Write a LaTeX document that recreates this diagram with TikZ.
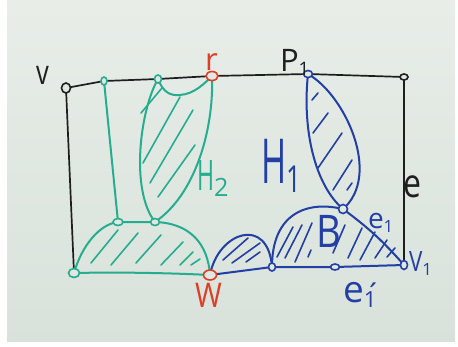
\documentclass[tikz,border=0pt]{standalone}
\usepackage{fontspec}
\setmainfont{Open Sans}
\usetikzlibrary{shapes.geometric}
\definecolor{boardtop}{RGB}{232,237,232}
\definecolor{boardbot}{RGB}{216,226,219}
\definecolor{board}{RGB}{225,232,226}
\definecolor{gcol}{RGB}{38,172,142}
\definecolor{bcol}{RGB}{35,62,165}
\definecolor{rcol}{RGB}{222,62,38}
\definecolor{kcol}{RGB}{30,30,30}
\newcommand{\lowsub}[1]{\raisebox{-0.3ex}{\scalebox{0.6}{#1}}}
\tikzset{
  vtx/.style={ellipse, draw=#1, line width=1.6pt, fill=board, minimum width=8pt, minimum height=7pt, inner sep=0pt},
  kline/.style={kcol, line width=1.7pt, line cap=round, line join=round},
  gline/.style={gcol, line width=2pt, line cap=round, line join=round},
  bline/.style={bcol, line width=2pt, line cap=round, line join=round},
  ghatch/.style={gcol, line width=1.6pt, line cap=round},
  bhatch/.style={bcol, line width=1.6pt, line cap=round},
  lab/.style={inner sep=0pt, outer sep=0pt, anchor=base west},
}
\begin{document}
\begin{tikzpicture}[x=1pt,y=-1pt]
\useasboundingbox (0,0) rectangle (458,346);
\fill[white] (0,0) rectangle (458,346);
\shade[top color=boardtop, bottom color=boardbot] (7,0) rectangle (455,341);

% named points
\coordinate (v) at (66,88);
\coordinate (g1) at (104,81);
\coordinate (g2) at (158,79);
\coordinate (r) at (212,76);
\coordinate (p1) at (308,74);
\coordinate (tr) at (404,77);
\coordinate (gk) at (180,95);
\coordinate (gm1) at (118,222);
\coordinate (gm2) at (155,222);
\coordinate (gbl) at (74,273);
\coordinate (w) at (210,275);
\coordinate (b1) at (272,267);
\coordinate (b2) at (335,267);
\coordinate (v1) at (404,265);
\coordinate (j) at (343,209);

% black frame
\draw[kline] (v) -- (g1) -- (g2) -- (r) -- (p1) -- (tr);
\draw[kline] (tr) -- (v1);
\draw[kline] (v) -- (gbl);

% green part
\draw[gline] (g1) -- (gm1);
\draw[gline] (g2) .. controls (163,92) and (170,96) .. (gk) .. controls (194,94) and (204,84) .. (r);
\draw[gline] (g2) .. controls (140,110) and (130,190) .. (gm2);
\draw[gline] (r) .. controls (214,130) and (195,195) .. (gm2);
\draw[gline] (gbl) .. controls (82,245) and (100,224) .. (gm1) -- (gm2) .. controls (190,223) and (208,244) .. (w);
\draw[gline] (gbl) .. controls (120,272) and (170,273) .. (w);

\draw[ghatch] (162,88) -- (141,113);
\draw[ghatch] (180,97) -- (143,163);
\draw[ghatch] (193,110) -- (150,183);
\draw[ghatch] (195,145) -- (158,197);
\draw[ghatch] (91,263) -- (118,230);
\draw[ghatch] (111,265) -- (138,233);
\draw[ghatch] (136,263) -- (161,235);
\draw[ghatch] (161,265) -- (183,242);
\draw[ghatch] (180,265) -- (193,252);
\draw[ghatch] (191,265) -- (200,259);

% blue part
\draw[bline] (w) -- (b1) -- (b2) -- (v1);
\draw[bline] (w) .. controls (218,232) and (268,215) .. (b1);
\draw[bline] (b1) .. controls (272,215) and (305,200) .. (j);
\draw[bline] (j) to[bend left=6] (v1);
\draw[bline] (p1) .. controls (302,130) and (315,185) .. (j);
\draw[bline] (p1) .. controls (345,95) and (382,175) .. (j);

\draw[bhatch] (223,260) -- (248,238);
\draw[bhatch] (232,263) -- (260,243);
\draw[bhatch] (246,262) -- (260,252);
\draw[bhatch] (277,257) -- (293,227);
\draw[bhatch] (285,258) -- (302,225);
\draw[bhatch] (295,262) -- (312,223);
\draw[bhatch] (308,257) -- (311,250);
\draw[bhatch] (333,253) -- (345,225);
\draw[bhatch] (348,258) -- (362,228);
\draw[bhatch] (360,260) -- (375,232);
\draw[bhatch] (375,258) -- (387,240);
\draw[bhatch] (387,257) -- (395,248);
\draw[bhatch] (312,100) -- (318,93);
\draw[bhatch] (313,133) -- (328,113);
\draw[bhatch] (318,168) -- (342,133);
\draw[bhatch] (333,190) -- (352,160);
\draw[bhatch] (347,190) -- (352,183);

% vertices
\node[vtx=kcol, minimum width=9pt, minimum height=10pt] (nv) at (v) {};
\node[vtx=gcol, minimum width=6pt, minimum height=8pt] (ng1) at (g1) {};
\node[vtx=gcol, minimum width=7pt, minimum height=8pt] (ng2) at (g2) {};
\node[vtx=rcol, minimum width=12pt, minimum height=9pt] (nr) at (r) {};
\node[vtx=bcol, minimum width=9pt, minimum height=7pt] (np1) at (p1) {};
\node[vtx=kcol, minimum width=8pt, minimum height=6pt] (ntr) at (tr) {};
\node[vtx=gcol, minimum width=10pt, minimum height=7pt] (ngm1) at (gm1) {};
\node[vtx=gcol, minimum width=9pt, minimum height=7pt] (ngm2) at (gm2) {};
\node[vtx=gcol, minimum width=11pt, minimum height=9pt] (ngbl) at (gbl) {};
\node[vtx=rcol, minimum width=13pt, minimum height=10pt] (nw) at (w) {};
\node[vtx=bcol, minimum width=7pt, minimum height=8pt] (nb1) at (b1) {};
\node[vtx=bcol, minimum width=9pt, minimum height=6pt] (nb2) at (b2) {};
\node[vtx=bcol, minimum width=7pt, minimum height=9pt] (nv1) at (v1) {};
\node[vtx=bcol, minimum width=9pt, minimum height=9pt] (nj) at (j) {};

% labels
\node[lab, kcol, font=\fontsize{34}{34}\selectfont] (lv) at (36,84) {\scalebox{0.75}[1]{v}};
\node[lab, rcol, font=\fontsize{31}{31}\selectfont] (lr) at (205,70) {r};
\node[lab, kcol, font=\fontsize{31}{31}\selectfont] (lp) at (280,71) {P\lowsub{1}};
\node[lab, kcol, font=\fontsize{40}{40}\selectfont] (le) at (403,197) {\scalebox{0.8}[1]{e}};
\node[lab, bcol, font=\fontsize{62}{62}\selectfont] (lh1) at (261,183) {\scalebox{0.55}[1]{H}\lowsub{\scalebox{0.7}[1]{1}}};
\node[lab, gcol, font=\fontsize{42}{42}\selectfont] (lh2) at (197,190) {\scalebox{0.55}[1]{H}\lowsub{2}};
\node[lab, bcol, font=\fontsize{45}{45}\selectfont] (lb) at (316,247) {\scalebox{0.85}[1]{B}};
\node[lab, bcol, font=\fontsize{28}{28}\selectfont] (le1) at (368,228) {e\lowsub{1}};
\node[lab, bcol, font=\fontsize{28}{28}\selectfont] (lv1) at (409,271) {\scalebox{0.8}[1]{V}\lowsub{1}};
\node[lab, rcol, font=\fontsize{34}{34}\selectfont] (lw) at (195,307) {\scalebox{0.85}[1]{W}};
\node[lab, bcol, font=\fontsize{37}{37}\selectfont] (le1p) at (343,302) {e\lowsub{1}\kern-0.32em\raisebox{-3pt}{\scalebox{0.8}{\symbol{"00B4}}}};
\end{tikzpicture}
\end{document}
